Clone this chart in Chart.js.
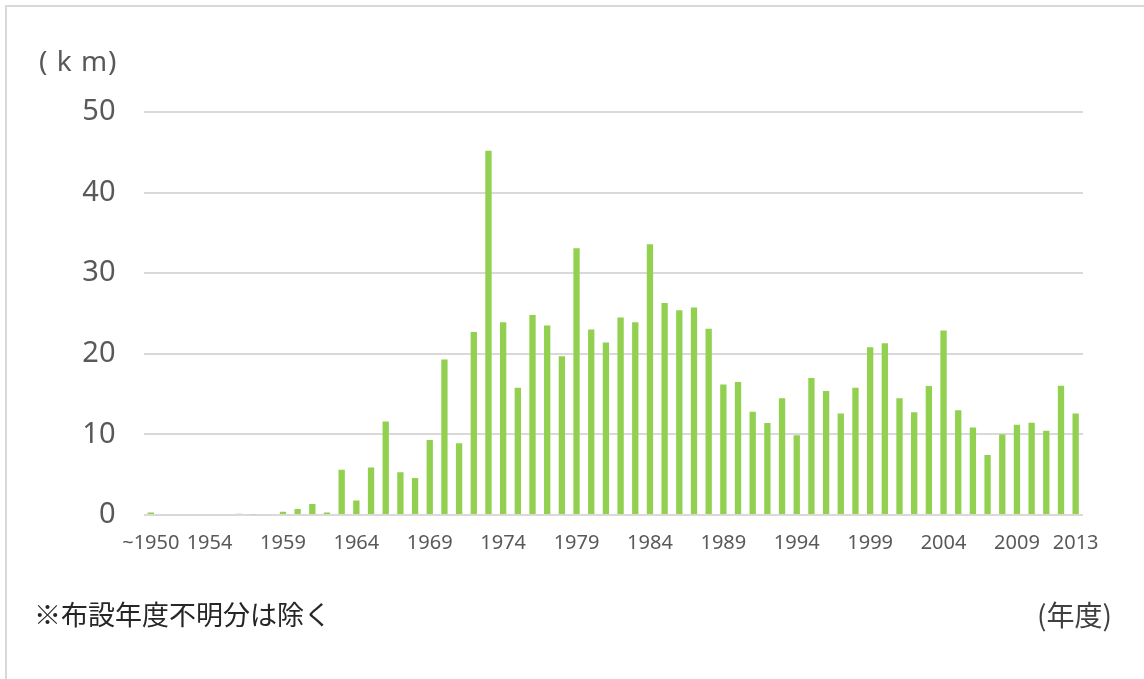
<!DOCTYPE html>
<html>
<head>
<meta charset="utf-8">
<script src="https://cdn.jsdelivr.net/npm/chart.js@4"></script>
<style>
html,body{margin:0;padding:0;background:#fff;width:1144px;height:679px;overflow:hidden;}
#frame{position:absolute;left:5px;top:5px;width:1160px;height:700px;border:2px solid #d9d9d9;box-sizing:border-box;}
#wrap{position:absolute;left:0;top:0;width:1144px;height:679px;}
.t{position:absolute;white-space:pre;line-height:1;}
#unit{left:39px;top:41px;font:28px "Noto Sans",sans-serif;letter-spacing:1px;color:#595959;}
#note{left:34px;top:594px;font:27px "Noto Sans CJK JP",sans-serif;color:#262626;}
#xunit{right:32px;top:594px;font:28px "Noto Sans CJK JP",sans-serif;color:#404040;}
</style>
</head>
<body>
<div id="frame"></div>
<div id="wrap"><canvas id="c" width="1144" height="679"></canvas></div>
<div class="t" id="unit">( k m)</div>
<div class="t" id="note">※布設年度不明分は除く</div>
<div class="t" id="xunit">(年度)</div>
<script>
const categories = ["~1950","1951","1952","1953","1954","1955","1956","1957","1958","1959",
  "1960","1961","1962","1963","1964","1965","1966","1967","1968","1969",
  "1970","1971","1972","1973","1974","1975","1976","1977","1978","1979",
  "1980","1981","1982","1983","1984","1985","1986","1987","1988","1989",
  "1990","1991","1992","1993","1994","1995","1996","1997","1998","1999",
  "2000","2001","2002","2003","2004","2005","2006","2007","2008","2009",
  "2010","2011","2012","2013"];
const lengthKm = [0.3,0,0,0,0,0,0.15,0.1,0,0.4,
  0.75,1.35,0.3,5.6,1.8,5.9,11.6,5.3,4.6,9.3,
  19.3,8.9,22.7,45.2,23.9,15.8,24.8,23.5,19.7,33.1,
  23.0,21.4,24.5,23.9,33.6,26.3,25.4,25.75,23.1,16.2,
  16.5,12.8,11.4,14.5,9.9,17.0,15.4,12.6,15.8,20.8,
  21.3,14.5,12.75,16.0,22.9,13.0,10.85,7.45,10.0,11.2,
  11.45,10.45,16.05,12.6];
const shownTickLabels = ["~1950","1954","1959","1964","1969","1974","1979","1984","1989","1994","1999","2004","2009","2013"];
const yTicks = [0,10,20,30,40,50];

new Chart(document.getElementById('c'), {
  type: 'bar',
  data: {
    labels: categories,
    datasets: [{
      data: lengthKm,
      backgroundColor: '#92d050',
      borderWidth: 0,
      barPercentage: 0.43,
      categoryPercentage: 1.0
    }]
  },
  options: {
    responsive: false,
    animation: false,
    devicePixelRatio: 1,
    layout: { padding: { top: 112, right: 61, left: 0, bottom: 0 } },
    plugins: { legend: { display: false }, tooltip: { enabled: false } },
    scales: {
      x: {
        grid: { display: false, drawTicks: false },
        border: { display: false },
        ticks: {
          autoSkip: false, maxRotation: 0, minRotation: 0, padding: 16,
          color: '#595959',
          font: { family: 'Noto Sans', size: 20 },
          callback: function(v, i) { const l = categories[i]; return shownTickLabels.includes(l) ? l : ''; }
        },
        afterFit: function(s) { s.height = 164; }
      },
      y: {
        min: yTicks[0], max: yTicks[yTicks.length - 1],
        afterBuildTicks: function(s) { s.ticks = yTicks.map(v => ({ value: v })); },
        grid: { color: '#d9d9d9', lineWidth: 2, drawTicks: false },
        border: { display: false },
        ticks: { padding: 28, color: '#595959', font: { family: 'Noto Sans', size: 29 } },
        afterFit: function(s) { s.width = 143.5; }
      }
    }
  }
});
</script>
</body>
</html>
